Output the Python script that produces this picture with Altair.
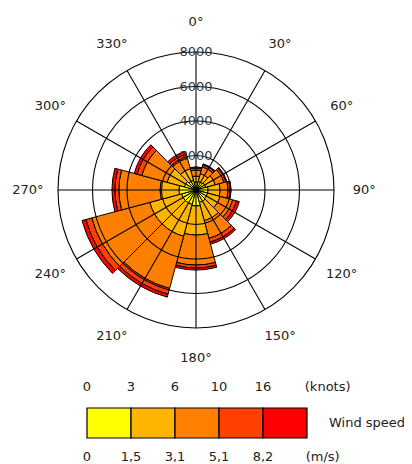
import altair as alt
import pandas as pd
import numpy as np

# ---- data ----
directions = [0, 30, 60, 90, 120, 150, 180, 210, 240, 270, 300, 330]
speed_classes = ["0 - 1,5", "1,5 - 3,1", "3,1 - 5,1", "5,1 - 8,2", ">= 8,2"]
class_colors = ["#FFFF00", "#FFB400", "#FF8000", "#FF4000", "#FF0000"]
counts_c1 = [460, 520, 580, 700, 700, 750, 930, 870, 870, 990, 700, 580]
counts_c2 = [350, 460, 580, 700, 750, 1100, 1680, 1910, 1910, 1100, 1040, 700]
counts_c3 = [350, 410, 520, 460, 750, 1050, 1740, 3130, 3480, 2380, 1510, 640]
counts_c4 = [120, 120, 120, 120, 230, 230, 170, 350, 350, 230, 290, 230]
counts_c5 = [60, 60, 60, 60, 170, 120, 120, 170, 230, 170, 170, 170]
ring_values = [2000, 4000, 6000, 8000]
ring_labels = ["2000", "4000", "6000", "8000"]
spoke_angles = [0, 30, 60, 90, 120, 150, 180, 210, 240, 270, 300, 330]
angle_labels = ["0°", "30°", "60°", "90°", "120°", "150°", "180°", "210°", "240°", "270°", "300°", "330°"]
knots_labels = ["0", "3", "6", "10", "16"]
ms_labels = ["0", "1,5", "3,1", "5,1", "8,2"]
unit_texts = ["(knots)", "(m/s)", "Wind speed"]

# ---- layout constants ----
W, H = 396, 456
CX, CY = 188, 182          # centre of the rose inside the plot area
R_PX = 138                 # pixel radius of the outer ring
R_MAX = 8000
SECTOR = 30
LABEL_R = 9750
LEG_X0, BOX = 79, 44
FONT = "DejaVu Sans"
TXT = "#222222"

u = R_MAX / R_PX
xs = alt.Scale(domain=[-CX * u, (W - CX) * u], range=[0, W], nice=False, zero=False)
ys = alt.Scale(domain=[-(H - CY) * u, CY * u], range=[H, 0], nice=False, zero=False)
ts = alt.Scale(domain=[0, 360], range=[0, 2 * np.pi], nice=False, zero=False)
rs = alt.Scale(type="linear", domain=[0, R_MAX], range=[0, R_PX], nice=False, zero=True)
cs = alt.Scale(domain=speed_classes, range=class_colors)

cx = alt.XDatum(0, scale=xs, axis=None)
cy = alt.YDatum(0, scale=ys, axis=None)

# ---- tables ----
class_counts = [counts_c1, counts_c2, counts_c3, counts_c4, counts_c5]
rows = []
for i, d in enumerate(directions):
    cum = 0
    for k, cls in enumerate(speed_classes):
        v = class_counts[k][i]
        rows.append(dict(dir=d, t0=d - SECTOR / 2, t1=d + SECTOR / 2,
                         r0=cum, r1=cum + v, cls=cls))
        cum += v
bars_df = pd.DataFrame(rows)

rings_df = pd.DataFrame(dict(r=ring_values, label=ring_labels, t0=0, t1=360, tz=0))
spokes_df = pd.DataFrame(dict(a=spoke_angles))
spokes_df["x0"] = 0.0
spokes_df["y0"] = 0.0
spokes_df["x1"] = R_MAX * np.sin(np.radians(spokes_df["a"]))
spokes_df["y1"] = R_MAX * np.cos(np.radians(spokes_df["a"]))
alabels_df = pd.DataFrame(dict(a=spoke_angles, label=angle_labels, lr=LABEL_R))

legend_df = pd.DataFrame(dict(cls=speed_classes, e0=range(5), knots=knots_labels, ms=ms_labels))
legend_df["e1"] = legend_df["e0"] + 1
units_df = pd.DataFrame(dict(label=unit_texts, ex=[4.95, 4.97, 5.5], py=[379, 449, 415]))

# ---- polar layers ----
bars = alt.Chart(bars_df).mark_arc(stroke="black", strokeWidth=1).encode(
    x=cx, y=cy,
    theta=alt.Theta("t0:Q", scale=ts, stack=False), theta2="t1:Q",
    radius=alt.Radius("r1:Q", scale=rs), radius2="r0:Q",
    color=alt.Color("cls:N", scale=cs, legend=None),
)

rings = alt.Chart(rings_df).mark_arc(stroke="black", strokeWidth=1.1, fillOpacity=0).encode(
    x=cx, y=cy,
    theta=alt.Theta("t0:Q", scale=ts, stack=False), theta2="t1:Q",
    radius=alt.Radius("r:Q", scale=rs),
)

spokes = alt.Chart(spokes_df).mark_rule(color="black", strokeWidth=1.1).encode(
    x=alt.X("x0:Q", scale=xs, axis=None), y=alt.Y("y0:Q", scale=ys, axis=None),
    x2="x1:Q", y2="y1:Q",
)

alabels = alt.Chart(alabels_df).mark_text(font=FONT, fontSize=13, color=TXT,
                                          align="center", baseline="middle").encode(
    x=cx, y=cy,
    theta=alt.Theta("a:Q", scale=ts, stack=False),
    radius=alt.Radius("lr:Q", scale=rs),
    text="label:N",
)

rlabels = alt.Chart(rings_df).mark_text(font=FONT, fontSize=13, color="#333333",
                                        align="center", baseline="middle").encode(
    x=cx, y=cy,
    theta=alt.Theta("tz:Q", scale=ts, stack=False),
    radius=alt.Radius("r:Q", scale=rs),
    text="label:N",
)

polar = alt.layer(bars, rings, spokes, alabels, rlabels)

# ---- speed legend ----
lx = alt.Scale(domain=[-LEG_X0 / BOX, (W - LEG_X0) / BOX], range=[0, W], nice=False, zero=False)

boxes = alt.Chart(legend_df).mark_rect(stroke="black", strokeWidth=1.2).encode(
    x=alt.X("e0:Q", scale=lx, axis=None), x2="e1:Q",
    y=alt.value(400), y2=alt.value(430),
    color=alt.Color("cls:N", scale=cs, legend=None),
)
knots_txt = alt.Chart(legend_df).mark_text(font=FONT, fontSize=13, color=TXT).encode(
    x=alt.X("e0:Q", scale=lx, axis=None), y=alt.value(379), text="knots:N")
ms_txt = alt.Chart(legend_df).mark_text(font=FONT, fontSize=13, color=TXT).encode(
    x=alt.X("e0:Q", scale=lx, axis=None), y=alt.value(449), text="ms:N")
units_txt = alt.Chart(units_df).mark_text(font=FONT, fontSize=13, color=TXT, align="left").encode(
    x=alt.X("ex:Q", scale=lx, axis=None),
    y=alt.Y("py:Q", scale=None, axis=None),
    text="label:N")

legend = alt.layer(boxes, knots_txt, ms_txt, units_txt)

chart = (
    alt.layer(polar, legend)
    .resolve_scale(x="independent", y="independent")
    .properties(width=W, height=H, padding=0, autosize="none", background="white")
    .configure_view(strokeWidth=0)
)

chart.save("out.html", embed_options={"renderer": "svg", "actions": False})
